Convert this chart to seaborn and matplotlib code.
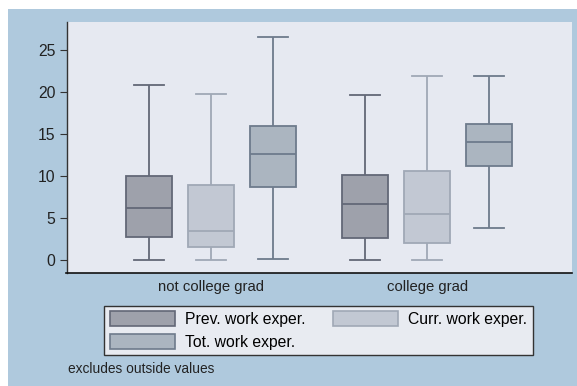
import numpy as np
import pandas as pd
import matplotlib
matplotlib.use("Agg")
import matplotlib.pyplot as plt
from matplotlib.patches import Rectangle, Patch
import seaborn as sns

# ---- data (five-number summaries: min, Q1, median, Q3, max) ----
groups = ["not college grad", "college grad"]
series = ["Prev. work exper.", "Curr. work exper.", "Tot. work exper."]
prev_nc = [0.0, 2.7, 6.15, 10.0, 20.8]
curr_nc = [0.0, 1.5, 3.5, 8.9, 19.8]
tot_nc = [0.12, 8.65, 12.6, 15.95, 26.6]
prev_cg = [0.0, 2.6, 6.7, 10.1, 19.6]
curr_cg = [0.0, 2.0, 5.45, 10.6, 21.9]
tot_cg = [3.85, 11.2, 14.1, 16.2, 21.9]
yticks = [0, 5, 10, 15, 20, 25]
footnote = "excludes outside values"

rows = []
for g, s, vals in [
    (groups[0], series[0], prev_nc), (groups[0], series[1], curr_nc), (groups[0], series[2], tot_nc),
    (groups[1], series[0], prev_cg), (groups[1], series[1], curr_cg), (groups[1], series[2], tot_cg),
]:
    for v in vals:
        rows.append({"group": g, "series": s, "value": v})
df = pd.DataFrame(rows)

plt.rcParams["font.family"] = ["Liberation Sans", "DejaVu Sans"]

fills = ["#9ea1ab", "#c2c8d3", "#abb5c0"]
edges = ["#636877", "#a0a8b6", "#6e7b8c"]
outer_bg = "#afc9dd"
plot_bg = "#e6e9f1"

W, H = 577, 386
fig = plt.figure(figsize=(W / 100, H / 100), dpi=100, facecolor="white")
fig.patches.append(Rectangle((8 / W, 0), 1 - 8 / W, 1 - 9 / H, transform=fig.transFigure,
                             facecolor=outer_bg, edgecolor="none", zorder=-10))

ax = fig.add_axes([66.5 / W, 1 - 273 / H, (572 - 66.5) / W, (273 - 22) / H])
ax.set_facecolor(plot_bg)

sns.boxplot(data=df, x="group", y="value", hue="series", order=groups, hue_order=series,
            whis=np.inf, width=0.86, gap=0.26, palette=fills, linewidth=1.3,
            legend=False, ax=ax)

boxes = list(ax.patches)
lines = list(ax.lines)
per_box = len(lines) // len(boxes) if boxes else 0
for bi, box in enumerate(boxes):
    h = bi // len(groups)
    box.set_facecolor(fills[h])
    box.set_edgecolor(edges[h])
    bx = box.get_path().vertices[:, 0]
    x0, x1 = bx.min(), bx.max()
    cx, half = (x0 + x1) / 2, (x1 - x0) / 2
    for ln in lines[bi * per_box:(bi + 1) * per_box]:
        ln.set_color(edges[h])
        ln.set_linewidth(1.3)
        xd = np.asarray(ln.get_xdata(), dtype=float)
        yd = np.asarray(ln.get_ydata(), dtype=float)
        if len(xd) == 2 and yd[0] == yd[1] and (xd.max() - xd.min()) < 2 * half * 0.95:
            ln.set_xdata([cx - half * 0.65, cx + half * 0.65])

ax.set_ylim(-1.55, 28.33)
ax.set_xlim(-0.667, 1.67)
ax.set_yticks(yticks)
ax.set_yticklabels([str(t) for t in yticks], fontsize=11.3, color="#222222")
ax.tick_params(axis="y", length=5, width=0.8, color="#333333", pad=3)
ax.tick_params(axis="x", length=0, labelsize=10.7, labelcolor="#222222", pad=5)
ax.set_xlabel("")
ax.set_ylabel("")
for side in ["top", "right"]:
    ax.spines[side].set_visible(False)
ax.spines["left"].set_color("#333333")
ax.spines["bottom"].set_color("#111111")
ax.spines["left"].set_linewidth(1.0)
ax.spines["bottom"].set_linewidth(1.2)
ax.grid(False)

handles = [Patch(facecolor=fills[i], edgecolor=edges[i], linewidth=1.2, label=series[i]) for i in range(3)]
order = [0, 2, 1]
leg = fig.legend([handles[i] for i in order], [series[i] for i in order], ncol=2,
                 loc="center", bbox_to_anchor=((103 + 534) / 2 / W, 1 - 330.5 / H),
                 frameon=True, fancybox=False, fontsize=11.3, handlelength=4.16, handleheight=1.08,
                 columnspacing=1.77, handletextpad=0.64, labelspacing=0.44, borderpad=0.35,
                 framealpha=1.0)
leg.get_frame().set_facecolor("#e8ebf1")
leg.get_frame().set_edgecolor("#333333")
leg.get_frame().set_linewidth(1.0)

fig.text(68 / W, 1 - 369 / H, footnote, fontsize=9.9, color="#222222", va="center", ha="left")

fig.savefig("out.png", dpi=100, facecolor="white")
